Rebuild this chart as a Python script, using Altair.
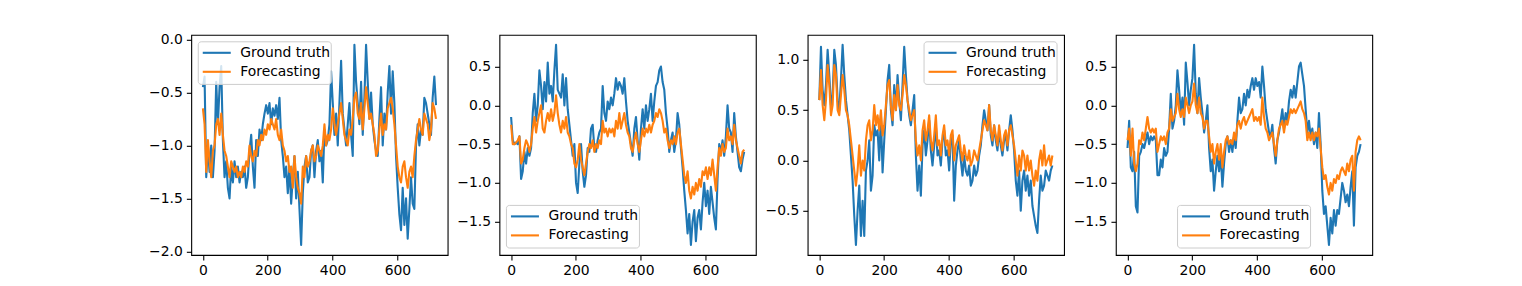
import altair as alt
import numpy as np
import pandas as pd

GT_COLOR = "#1f77b4"
FC_COLOR = "#ff7f0e"
N_STEPS = 720
SERIES = ["Ground truth", "Forecasting"]

x_ticks = [0, 200, 400, 600]
y_ticks_1 = [-2.0, -1.5, -1.0, -0.5, 0.0]
y_ticks_2 = [-1.5, -1.0, -0.5, 0.0, 0.5]
y_ticks_3 = [-0.5, 0.0, 0.5, 1.0]
y_ticks_4 = [-1.5, -1.0, -0.5, 0.0, 0.5]

gt_1 = [-0.45, -0.35, -1.3, -1.0, -1.25, -1.0, -1.3, -1.05, -0.4, -0.8, -0.45, -0.25, -0.95, -1.3, -1.15, -1.4, -1.5, -1.2, -1.35, -1.15, -1.3, -1.2, -1.35, -1.25, -1.3, -1.2, -1.4, -1.3, -1.05, -0.9, -1.2, -1.4, -0.95, -1.1, -0.85, -0.95, -0.8, -0.7, -0.62, -0.7, -0.6, -0.8, -0.65, -0.72, -0.62, -0.75, -0.55, -0.95, -1.1, -1.3, -1.2, -1.45, -1.2, -1.55, -1.3, -1.1, -1.5, -1.25, -1.6, -1.94, -1.45, -1.2, -1.1, -1.35, -1.3, -1.05, -1.0, -1.3, -1.05, -0.95, -1.15, -1.05, -1.35, -0.85, -1.0, -0.95, -0.8, -0.3, -0.6, -0.9, -0.7, -1.0, -0.6, -0.2, -0.7, -0.85, -1.0, -0.8, -0.6, -0.9, -1.1, -0.05, -0.4, -0.6, -0.8, -0.4, -0.9, -0.55, -0.05, -0.4, -0.75, -0.5, -0.8, -0.95, -1.05, -1.1, -0.75, -0.45, -1.0, -0.7, -0.85, -0.5, -0.25, -0.7, -0.3, -0.6, -1.1, -1.4, -1.65, -1.8, -1.4, -1.75, -1.5, -1.88, -1.6, -1.3, -1.55, -1.6, -1.0, -0.8, -1.0, -0.85, -0.9, -0.55, -0.6, -0.7, -0.8, -0.9, -0.55, -0.35, -0.62]
fc_1 = [-0.65, -0.8, -1.25, -0.95, -1.15, -1.3, -1.05, -1.0, -0.8, -0.75, -0.9, -0.7, -0.9, -1.05, -1.1, -1.2, -1.3, -1.15, -1.2, -1.25, -1.2, -1.3, -1.25, -1.3, -1.2, -1.25, -1.15, -1.2, -1.0, -1.1, -1.15, -1.05, -1.1, -0.95, -1.0, -0.9, -0.95, -0.85, -0.9, -0.8, -0.85, -0.75, -0.8, -0.85, -0.75, -0.9, -0.95, -0.85, -1.0, -1.05, -1.15, -1.1, -1.25, -1.2, -1.4, -1.1, -1.3, -1.4, -1.45, -1.55, -1.2, -1.3, -1.1, -1.2, -1.15, -1.05, -1.0, -1.15, -1.1, -1.0, -1.05, -1.1, -1.0, -0.8, -1.0, -0.9, -0.95, -0.85, -0.65, -0.8, -0.9, -0.8, -0.7, -0.6, -0.75, -0.9, -0.95, -1.0, -0.85, -0.9, -0.75, -0.55, -0.5, -0.7, -0.75, -0.6, -0.85, -0.65, -0.45, -0.6, -0.75, -0.7, -0.8, -0.9, -1.1, -1.05, -0.85, -0.7, -0.9, -0.8, -0.85, -0.65, -0.6, -0.55, -0.65, -0.8, -1.0, -1.2, -1.3, -1.35, -1.2, -1.15, -1.3, -1.4, -1.25, -1.2, -1.3, -1.1, -0.95, -0.85, -0.75, -0.85, -0.9, -0.7, -0.75, -0.8, -0.95, -0.85, -0.6, -0.65, -0.75]

gt_2 = [-0.15, -0.45, -0.5, -0.48, -0.5, -0.4, -0.95, -0.85, -0.6, -0.75, -0.55, -0.65, -0.55, -0.1, 0.15, -0.2, 0.0, 0.45, 0.25, -0.05, 0.3, 0.05, 0.55, 0.15, 0.25, 0.05, 0.45, 0.78, 0.2, 0.15, 0.1, 0.4, 0.0, 0.35, -0.05, -0.25, -0.45, -0.65, -0.5, -1.0, -1.13, -0.75, -0.5, -0.85, -1.05, -0.9, -0.55, -0.6, -0.3, -0.25, -0.55, -0.6, -0.45, -0.35, -0.3, 0.25, -0.1, -0.2, 0.05, -0.05, 0.1, 0.0, 0.15, 0.35, 0.2, 0.3, 0.25, 0.15, 0.35, 0.05, -0.2, -0.35, -0.5, -0.65, -0.3, -0.15, -0.45, -0.7, -0.3, -0.05, -0.3, 0.0, -0.2, -0.05, 0.15, -0.2, 0.05, 0.25, 0.3, 0.45, 0.5, 0.3, 0.2, -0.1, -0.3, -0.6, -0.45, -0.35, -0.6, -0.45, -0.1, -0.25, -0.55, -0.8, -1.1, -1.35, -1.65, -1.4, -1.8, -1.5, -1.35, -1.75, -1.45, -1.35, -1.6, -1.25, -1.0, -1.3, -1.1, -1.4, -1.05, -1.25, -1.45, -1.6, -0.95, -0.5, -0.6, -0.45, -0.65, -0.4, 0.0, -0.3, -0.35, -0.6, -0.1, -0.4, -0.6, -0.8, -0.85, -0.7, -0.6]
fc_2 = [-0.25, -0.5, -0.5, -0.48, -0.45, -0.4, -0.75, -0.7, -0.55, -0.45, -0.5, -0.6, -0.5, -0.3, -0.15, -0.35, -0.2, -0.1, 0.0, -0.3, -0.35, -0.2, -0.1, -0.2, -0.05, -0.2, -0.1, 0.13, -0.1, -0.25, -0.35, -0.2, -0.3, -0.15, -0.35, -0.4, -0.5, -0.55, -0.75, -0.8, -0.7, -0.5, -0.7, -0.8, -0.9, -0.75, -0.6, -0.5, -0.55, -0.45, -0.6, -0.5, -0.55, -0.45, -0.5, -0.2, -0.35, -0.3, -0.4, -0.3, -0.35, -0.3, -0.4, -0.2, -0.3, -0.1, -0.3, -0.2, -0.1, -0.25, -0.35, -0.4, -0.55, -0.6, -0.45, -0.35, -0.5, -0.6, -0.45, -0.3, -0.4, -0.3, -0.35, -0.25, -0.35, -0.25, -0.2, -0.1, -0.15, -0.05, -0.1, -0.2, -0.35, -0.3, -0.45, -0.55, -0.45, -0.5, -0.4, -0.5, -0.35, -0.3, -0.5, -0.7, -0.9, -1.0, -0.85, -1.1, -1.2, -1.05, -1.15, -1.0, -1.1, -0.95, -1.05, -0.85, -0.9, -0.8, -0.95, -0.8, -0.9, -0.7, -0.9, -1.1, -0.8, -0.55, -0.65, -0.5, -0.6, -0.55, -0.3, -0.45, -0.4, -0.5, -0.25, -0.45, -0.55, -0.65, -0.75, -0.6, -0.57]

gt_3 = [0.6, 1.13, 0.7, 0.55, 0.75, 1.1, 0.85, 0.55, 0.65, 1.1, 0.95, 0.6, 0.5, 0.8, 1.15, 0.85, 0.6, 0.45, 0.3, 0.05, -0.2, -0.55, -0.84, -0.5, -0.25, -0.75, -0.4, -0.75, -0.1, 0.0, 0.2, -0.3, -0.15, 0.35, 0.25, 0.3, 0.0, 0.45, -0.12, 0.2, 0.5, 0.8, 0.95, 0.5, 0.35, 0.75, 0.5, 0.85, 0.6, 0.4, 0.75, 1.13, 0.85, 0.6, 0.45, 0.35, 0.5, 0.65, 0.05, -0.3, -0.05, -0.35, 0.15, 0.3, 0.05, 0.2, 0.4, 0.1, -0.05, 0.15, 0.35, 0.05, 0.1, -0.05, 0.2, 0.3, 0.05, 0.1, -0.1, 0.2, 0.25, -0.4, -0.05, 0.1, 0.2, 0.0, -0.15, 0.05, -0.1, -0.15, -0.05, -0.25, -0.2, -0.05, -0.15, -0.1, 0.05, 0.15, 0.35, 0.5, 0.4, 0.3, 0.55, 0.25, 0.15, 0.35, 0.2, 0.1, 0.3, 0.15, 0.05, 0.2, 0.25, 0.1, 0.3, 0.45, 0.3, 0.1, -0.2, -0.35, -0.1, -0.5, -0.2, -0.1, -0.3, -0.15, -0.35, -0.2, -0.45, -0.55, -0.65, -0.72, -0.4, -0.15, -0.3, -0.25, -0.1, -0.15, -0.2, -0.1, -0.05]
fc_3 = [0.6, 0.9, 0.55, 0.4, 0.6, 0.95, 0.75, 0.45, 0.55, 0.95, 0.85, 0.5, 0.45, 0.65, 0.85, 0.7, 0.5, 0.45, 0.35, 0.2, 0.05, -0.1, -0.25, -0.1, 0.15, -0.15, 0.0, -0.1, 0.2, 0.35, 0.4, 0.2, 0.3, 0.55, 0.35, 0.45, 0.3, 0.5, 0.25, 0.35, 0.55, 0.75, 0.8, 0.55, 0.4, 0.65, 0.5, 0.75, 0.55, 0.5, 0.65, 0.85, 0.75, 0.6, 0.5, 0.4, 0.45, 0.5, 0.2, 0.05, 0.15, 0.0, 0.3, 0.4, 0.2, 0.3, 0.45, 0.2, 0.1, 0.25, 0.45, 0.15, 0.2, 0.05, 0.25, 0.35, 0.15, 0.2, 0.05, 0.25, 0.3, 0.0, 0.15, 0.2, 0.25, 0.1, 0.0, 0.15, 0.05, 0.0, 0.1, -0.05, 0.0, 0.1, 0.05, 0.0, 0.1, 0.2, 0.3, 0.4, 0.35, 0.3, 0.55, 0.3, 0.2, 0.35, 0.25, 0.15, 0.35, 0.2, 0.1, 0.25, 0.3, 0.15, 0.3, 0.35, 0.25, 0.15, 0.0, -0.15, 0.05, -0.1, 0.1, 0.05, -0.1, 0.05, -0.1, 0.0, -0.15, -0.25, -0.1, -0.2, 0.0, 0.1, -0.05, 0.15, -0.05, 0.0, 0.05, -0.05, 0.05]

gt_4 = [-0.55, -0.2, -0.8, -0.85, -0.6, -1.3, -1.38, -0.65, -0.6, -0.5, -0.55, -0.45, -0.35, -0.5, -0.4, -0.45, -0.4, -0.45, -0.9, -0.9, -0.7, -0.8, -0.55, -0.65, -0.6, -0.3, 0.15, -0.3, -0.2, 0.0, 0.45, 0.2, -0.1, 0.1, -0.25, 0.55, 0.3, 0.0, 0.2, 0.35, 0.78, 0.15, -0.1, 0.35, 0.1, -0.1, -0.35, -0.2, 0.0, -0.55, -0.85, -0.7, -1.1, -0.85, -0.65, -0.85, -0.65, -1.05, -0.75, -0.5, -0.4, -0.6, -0.45, -0.6, -0.4, -0.55, -0.2, 0.1, -0.1, -0.05, 0.15, 0.0, 0.2, 0.1, 0.25, 0.35, 0.2, 0.35, 0.25, 0.3, 0.1, 0.5, 0.25, -0.05, -0.2, -0.35, -0.4, -0.25, -0.55, -0.75, -0.45, -0.35, -0.2, -0.05, -0.3, -0.1, -0.2, 0.05, 0.2, 0.1, 0.25, 0.1, 0.3, 0.5, 0.55, 0.4, 0.25, -0.05, -0.35, -0.2, -0.4, -0.3, -0.5, -0.35, -0.55, -0.1, -0.5, -1.1, -1.4, -1.3, -1.55, -1.8, -1.45, -1.65, -1.35, -1.55, -1.35, -1.4, -1.2, -1.0, -1.1, -1.25, -1.15, -1.3, -1.05, -0.85, -1.55, -0.8, -0.65, -0.6, -0.5]
fc_4 = [-0.45, -0.3, -0.65, -0.3, -0.75, -0.85, -0.75, -0.45, -0.5, -0.35, -0.45, -0.3, -0.15, -0.3, -0.35, -0.3, -0.35, -0.3, -0.6, -0.5, -0.4, -0.45, -0.4, -0.5, -0.35, -0.3, -0.05, -0.2, -0.15, -0.1, 0.15, -0.05, -0.15, -0.05, -0.15, 0.1, 0.0, -0.1, 0.0, 0.05, 0.28, 0.0, -0.1, 0.1, -0.1, -0.15, -0.3, -0.2, -0.2, -0.4, -0.6, -0.5, -0.75, -0.6, -0.5, -0.7, -0.5, -0.8, -0.6, -0.45, -0.4, -0.5, -0.45, -0.5, -0.35, -0.45, -0.25, -0.2, -0.3, -0.2, -0.15, -0.25, -0.2, -0.15, -0.1, -0.05, -0.2, -0.15, -0.2, -0.15, -0.25, 0.1, -0.15, -0.3, -0.35, -0.45, -0.4, -0.35, -0.5, -0.65, -0.45, -0.3, -0.25, -0.2, -0.35, -0.2, -0.25, -0.15, -0.05, -0.1, -0.05, -0.1, -0.05, 0.0, 0.05, -0.05, -0.1, -0.2, -0.45, -0.35, -0.45, -0.35, -0.45, -0.35, -0.4, -0.3, -0.55, -0.8, -0.95, -0.9, -1.05, -1.15, -1.0, -1.1, -0.95, -1.0, -0.9, -0.95, -0.85, -0.8, -0.85, -0.9, -0.75, -0.85, -0.7, -0.65, -1.1, -0.6, -0.45, -0.4, -0.45]

# ---- layout (pixels) ----
W = 256.4
H = 220.2
GAP = 51.2
YAX = 50
FONT = "DejaVu Sans"
FS = 13.9
LEG_W = 133.0
LEG_H = 42.6
PAD = 7.0


def legend_layers(x0, y0):
    one = alt.Chart(pd.DataFrame({"k": [0]}))
    box = one.mark_rect(
        fill="white", fillOpacity=0.8, stroke="#cccccc", strokeWidth=1, cornerRadius=3
    ).encode(
        x=alt.value(x0), x2=alt.value(x0 + LEG_W), y=alt.value(y0), y2=alt.value(y0 + LEG_H)
    )
    layers = [box]
    for i, (name, col) in enumerate(zip(SERIES, [GT_COLOR, FC_COLOR])):
        yy = y0 + 11.0 + 19.0 * i
        layers.append(
            one.mark_rule(color=col, strokeWidth=2.1).encode(
                x=alt.value(x0 + 4.5), x2=alt.value(x0 + 32.5), y=alt.value(yy)
            )
        )
        layers.append(
            one.mark_text(
                text=name, font=FONT, fontSize=FS, align="left", baseline="middle", color="black"
            ).encode(x=alt.value(x0 + 42.0), y=alt.value(yy))
        )
    return layers


def panel(gt, fc, yticks, legend_pos):
    xg = np.linspace(0, N_STEPS - 1, len(gt))
    xf = np.linspace(0, N_STEPS - 1, len(fc))
    df = pd.DataFrame({
        "t": np.concatenate([xg, xf]),
        "v": list(gt) + list(fc),
        "series": [SERIES[0]] * len(gt) + [SERIES[1]] * len(fc),
    })
    vmin = min(min(gt), min(fc))
    vmax = max(max(gt), max(fc))
    ym = 0.05 * (vmax - vmin)
    xm = 0.05 * (N_STEPS - 1)
    xenc = alt.X("t:Q", scale=alt.Scale(domain=[-xm, N_STEPS - 1 + xm], nice=False, zero=False),
                 axis=alt.Axis(values=x_ticks, format="d", title=None))
    yenc = alt.Y("v:Q", scale=alt.Scale(domain=[vmin - ym, vmax + ym], nice=False, zero=False),
                 axis=alt.Axis(values=yticks, format=".1f", title=None))
    base = alt.Chart(df)
    lines = []
    for name, col in zip(SERIES, [GT_COLOR, FC_COLOR]):
        lines.append(
            base.transform_filter(alt.datum.series == name)
            .mark_line(color=col, strokeWidth=2.1, strokeJoin="round")
            .encode(x=xenc, y=yenc, order="t:Q")
        )
    if legend_pos == "upper left":
        x0, y0 = PAD, PAD
    elif legend_pos == "lower left":
        x0, y0 = PAD, H - PAD - LEG_H
    elif legend_pos == "upper right":
        x0, y0 = W - PAD - LEG_W, PAD
    else:  # lower center
        x0, y0 = (W - LEG_W) / 2, H - PAD - LEG_H
    return alt.layer(*lines, *legend_layers(x0, y0)).properties(width=W, height=H)


chart = alt.hconcat(
    panel(gt_1, fc_1, y_ticks_1, "upper left"),
    panel(gt_2, fc_2, y_ticks_2, "lower left"),
    panel(gt_3, fc_3, y_ticks_3, "upper right"),
    panel(gt_4, fc_4, y_ticks_4, "lower center"),
    spacing=GAP,
    bounds="flush",
    padding={"left": 190.25 - 8 - YAX, "top": 23.8, "right": 5, "bottom": 5},
    background="white",
).configure_view(
    stroke="black", strokeWidth=1.1
).configure_axis(
    labelFont=FONT, labelFontSize=FS, labelColor="black", tickColor="black",
    tickSize=4.9, tickWidth=1.1, domain=False, grid=False, labelPadding=4, labelFlush=False,
).configure_axisY(
    minExtent=YAX, maxExtent=YAX
)

chart.save("out.html", embed_options={"renderer": "svg", "actions": False})
